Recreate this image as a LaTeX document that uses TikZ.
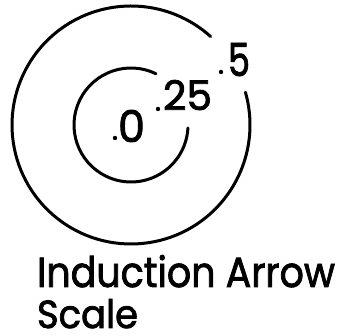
\documentclass[tikz,border=0pt]{standalone}
\usepackage{fontspec}
\usepackage{graphicx}
\setmainfont{Poppins}[FakeBold=2]
\tikzset{
  ring/.style={line width=3pt, line cap=round},
  lbl/.style={inner sep=0pt, outer sep=0pt, anchor=base west},
  pt/.style={fill=black, draw=none}
}
\begin{document}
\begin{tikzpicture}[x=1pt,y=1pt]
\useasboundingbox (0,0) rectangle (341,336);
\coordinate (c) at (131,211);
% outer ring with gap
\draw[ring] (c) ++(48:119) arc[start angle=48, end angle=376, radius=119];
% inner ring with gap
\draw[ring] (c) ++(64:57) arc[start angle=64, end angle=357, radius=57];
% value labels
\fill[pt] (115,198) circle (2.2);
\node[lbl] (v0) at (118,194) {\resizebox{27pt}{32pt}{0}};
\fill[pt] (158,227) circle (2.2);
\node[lbl] (v25) at (163,226) {\resizebox{49pt}{30pt}{25}};
\fill[pt] (221,264) circle (2.2);
\node[lbl] (v5) at (228,260) {\resizebox{22pt}{33pt}{5}};
% caption
\node[lbl] (t1) at (37,49) {\resizebox{298pt}{32pt}{Induction Arrow}};
\node[lbl] (t2) at (37,8) {\resizebox{101pt}{29pt}{Scale}};
\end{tikzpicture}
\end{document}
